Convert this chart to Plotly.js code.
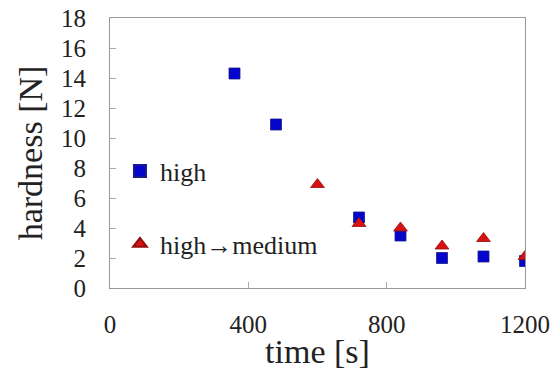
<!DOCTYPE html>
<html><head><meta charset="utf-8">
<script src="https://cdn.plot.ly/plotly-3.0.1.min.js"></script>
<style>html,body{margin:0;padding:0;background:#fff;}#c{width:558px;height:370px;}</style>
</head><body><div id="c"></div>
<script>
const highTime = [360, 480, 720, 840, 960, 1080, 1200];
const highHardness = [14.3, 10.9, 4.7, 3.5, 2.0, 2.1, 1.8];
const hmTime = [600, 720, 840, 960, 1080, 1200];
const hmHardness = [6.9, 4.3, 4.0, 2.8, 3.3, 2.1];
const xTicks = [0, 400, 800, 1200];
const yTicks = [0, 2, 4, 6, 8, 10, 12, 14, 16, 18];
const seriesNames = ['high', 'high\u2192medium'];

const font = '"Liberation Serif", "Times New Roman", serif';
const data = [
  {x: highTime, y: highHardness, mode: 'markers', type: 'scatter', name: seriesNames[0], legendgroup: 'a',
   marker: {symbol: 'square', size: 11, color: '#0505cc', line: {width: 0.8, color: '#1a1a90'}}},
  {x: hmTime, y: hmHardness, mode: 'markers', type: 'scatter', name: seriesNames[1], legendgroup: 'b',
   marker: {symbol: 'triangle-up', size: 12, color: '#d81010', line: {width: 0.8, color: '#901010'}}}
];
const layout = {
  width: 558, height: 370,
  margin: {l: 110, r: 33, t: 18, b: 82},
  paper_bgcolor: '#fff', plot_bgcolor: '#fff',
  font: {family: font, color: '#222'},
  showlegend: true,
  legend: {x: 0.024, y: 0.52, xanchor: 'left', yanchor: 'top', bgcolor: 'rgba(0,0,0,0)',
           font: {family: font, size: 26, color: '#222'}, traceorder: 'grouped', tracegroupgap: 36,
           itemsizing: 'constant'},
  xaxis: {range: [0, 1200], tickvals: xTicks, ticks: 'inside', ticklen: 6, tickcolor: '#aaa',
          showline: true, linecolor: '#999', mirror: true, showgrid: false, zeroline: false,
          ticklabelstandoff: 14,
          tickfont: {family: font, size: 25, color: '#222'},
          title: {text: 'time [s]', font: {family: font, size: 34, color: '#222'}, standoff: 0}},
  yaxis: {range: [0, 18], tickvals: yTicks, ticks: 'inside', ticklen: 6, tickcolor: '#aaa',
          showline: true, linecolor: '#999', mirror: true, showgrid: false, zeroline: false,
          ticklabelstandoff: 18,
          tickfont: {family: font, size: 25, color: '#222'},
          title: {text: 'hardness [N]', font: {family: font, size: 34, color: '#222'}, standoff: 8}}
};
Plotly.newPlot('c', data, layout, {displayModeBar: false, staticPlot: true});
</script></body></html>
